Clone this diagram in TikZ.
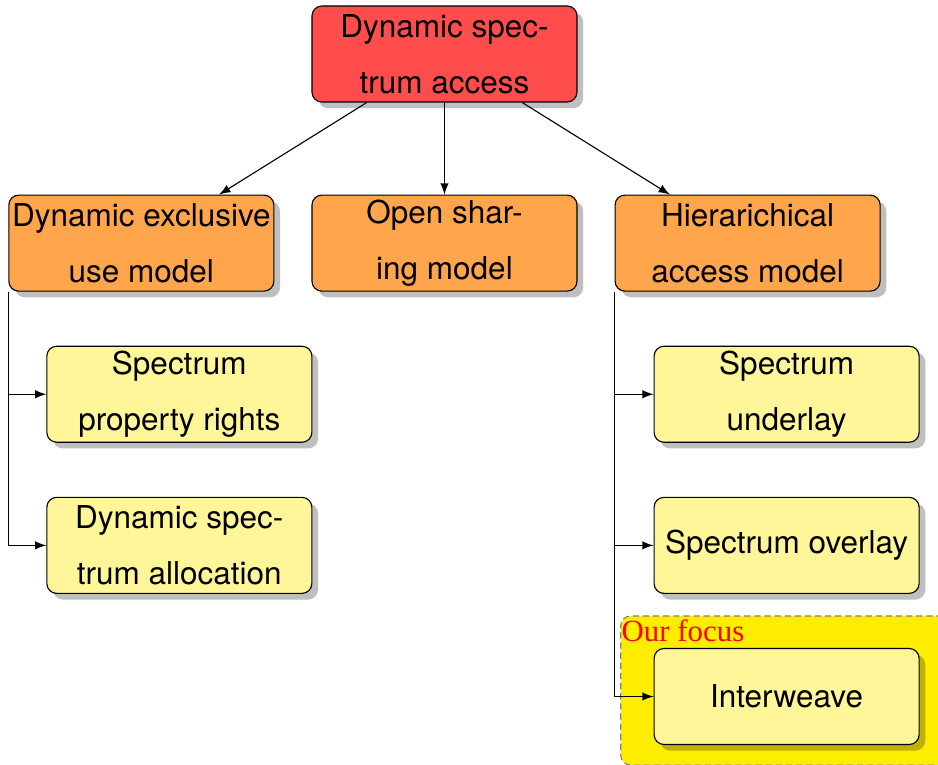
\documentclass[tikz,border=0pt]{standalone}
\usepackage{fontspec}
\setmainfont{TeX Gyre Heros}
\newfontfamily\focusfont{Liberation Serif}
\usetikzlibrary{positioning}
\usetikzlibrary{shadows}
\usetikzlibrary{fit}
\usetikzlibrary{backgrounds}
\definecolor{accessred}{RGB}{255,77,77}
\definecolor{modelorange}{RGB}{255,166,77}
\definecolor{schemeyellow}{RGB}{255,246,153}
\definecolor{focusyellow}{RGB}{255,237,0}
\tikzset{node distance=0.675cm, % Gap between the boxes of one branch
      box/.style={ % Common look of every box
      draw, rounded corners=3.5pt,
      minimum width=3.3125cm, minimum height=1.2cm, inner sep=1pt,
      align=center, font=\fontsize{11.2}{19.9}\selectfont,
      drop shadow={fill=black, opacity=0.25, shadow xshift=2.2pt, shadow yshift=-2.2pt}},
      access/.style={box, fill=accessred},
      model/.style={box, fill=modelorange},
      scheme/.style={box, fill=schemeyellow},
      focusbox/.style={ % Highlighted area behind the chosen scheme
      draw=gray, dash pattern=on 2.2pt off 1.4pt, rounded corners=3.5pt, fill=focusyellow},
      link/.style={draw, -latex, thin}}

\begin{document}
\begin{tikzpicture}
      \useasboundingbox (0,0) rectangle (11.725,-9.5625);
      \node[access] (dsa) at (5.556,-0.675) {Dynamic spec-\\trum access};
      \node[model, below=1.15cm of dsa] (osm) {Open shar-\\ing model};
      \node[model, left=0.4625cm of osm] (dem) {Dynamic exclusive\\use model};
      \node[model, right=0.4625cm of osm] (ham) {Hierarichical\\access model};
      \node[scheme, below=of dem, xshift=0.475cm] (spr) {Spectrum\\property rights};
      \node[scheme, below=of spr] (dsal) {Dynamic spec-\\trum allocation};
      \node[scheme, below=of ham, xshift=0.4875cm] (su) {Spectrum\\underlay};
      \node[scheme, below=of su] (so) {Spectrum overlay};
      \node[scheme, below=of so] (iw) {Interweave};
      \begin{scope}[on background layer]
      \node[focusbox, fit=(iw), inner xsep=0.41cm, inner ysep=0.325cm, yshift=0.075cm] (focus) {};
      \end{scope}
      \node[anchor=north west, inner xsep=0.3pt, inner ysep=1.5pt, text=red,
            font=\focusfont\fontsize{11}{13}\selectfont] (ourfocus) at (focus.north west) {Our focus};
      \draw[link] (dsa) -- (dem);
      \draw[link] (dsa) -- (osm);
      \draw[link] (dsa) -- (ham);
      \draw[link] (dem.south west) |- (spr.west);
      \draw[link] (dem.south west) |- (dsal.west);
      \draw[link] (ham.south west) |- (su.west);
      \draw[link] (ham.south west) |- (so.west);
      \draw[link] (ham.south west) |- (iw.west);
\end{tikzpicture}
\end{document}
